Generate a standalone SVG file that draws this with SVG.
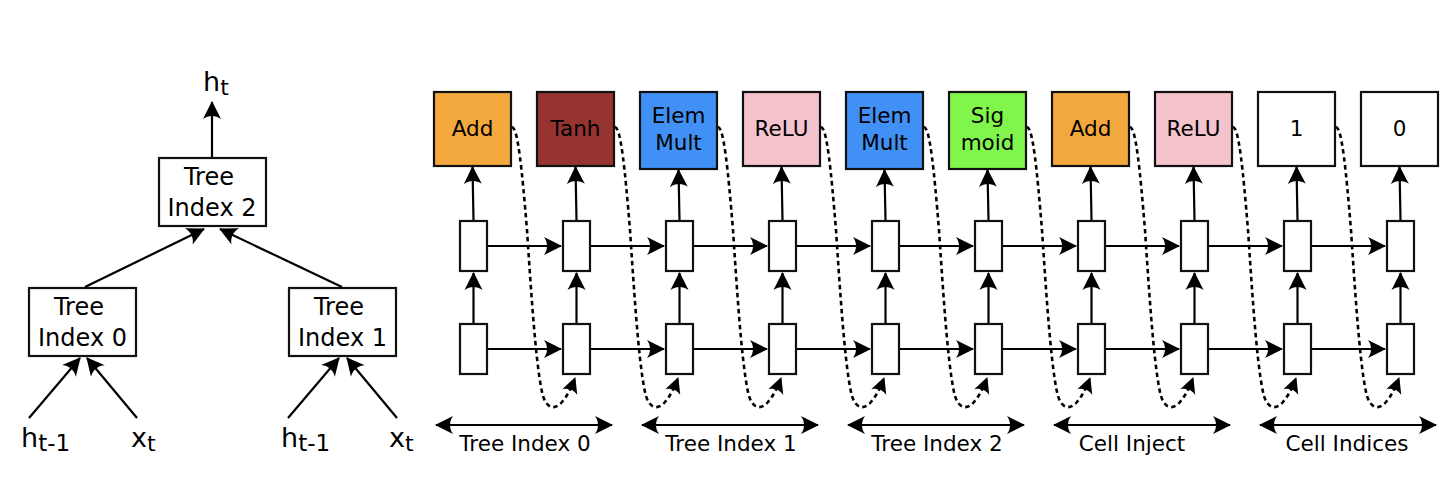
<svg xmlns="http://www.w3.org/2000/svg" width="1450" height="504" viewBox="0 0 1450 504">
<defs>
<style>
.box{stroke:#111;stroke-width:2.2}
.sm{fill:#fff;stroke:#111;stroke-width:2.2}
.t{font-family:"DejaVu Sans","Liberation Sans",sans-serif;font-size:21.5px;text-anchor:middle;fill:#000}
.tt{font-family:"DejaVu Sans","Liberation Sans",sans-serif;font-size:24px;text-anchor:middle;fill:#000}
.v{font-family:"DejaVu Sans","Liberation Sans",sans-serif;font-size:27px;fill:#000}
.ln{stroke:#000;stroke-width:2.2;fill:none;marker-end:url(#ah)}
.dl{stroke:#000;stroke-width:2.2;fill:none;marker-start:url(#ah);marker-end:url(#ah)}
.dot{stroke:#000;stroke-width:2.6;fill:none;stroke-dasharray:4.5 3.5;marker-end:url(#ahs)}
</style>
<marker id="ah" markerUnits="userSpaceOnUse" markerWidth="24" markerHeight="24" viewBox="-21 -12 24 24" refX="0" refY="0" orient="auto-start-reverse">
<path d="M1,0 L-17,-9 C-13,-3.5 -13,3.5 -17,9 Z" fill="#000"/>
</marker>
<marker id="ahs" markerUnits="userSpaceOnUse" markerWidth="22" markerHeight="22" viewBox="-19 -11 22 22" refX="0" refY="0" orient="auto">
<path d="M1,0 L-15,-8 C-11.5,-3 -11.5,3 -15,8 Z" fill="#000"/>
</marker>
</defs>
<rect width="1450" height="504" fill="#fff"/>

<g id="tree2"><rect class="box" x="159" y="158" width="107" height="68" fill="#fff"/><text class="tt" x="209" y="185">Tree</text><text class="tt" x="212" y="216">Index 2</text></g>
<g id="tree0"><rect class="box" x="29" y="288" width="107" height="68" fill="#fff"/><text class="tt" x="79" y="315">Tree</text><text class="tt" x="82.5" y="346">Index 0</text></g>
<g id="tree1"><rect class="box" x="289" y="288" width="107" height="68" fill="#fff"/><text class="tt" x="339" y="315">Tree</text><text class="tt" x="342.5" y="346">Index 1</text></g>
<g id="labels-left">
<text class="v" x="203" y="91">h<tspan font-size="22" dy="4">t</tspan></text>
<text class="v" x="21" y="447">h<tspan font-size="23" dy="4">t-1</tspan></text>
<text class="v" x="131" y="447">x<tspan font-size="22" dy="4">t</tspan></text>
<text class="v" x="281" y="447">h<tspan font-size="23" dy="4">t-1</tspan></text>
<text class="v" x="389" y="447">x<tspan font-size="22" dy="4">t</tspan></text>
</g>

<g id="c0"><rect class="box" x="434" y="92" width="77" height="74" fill="#f2a83d"/><text class="t" x="472.5" y="135.5">Add</text></g>
<g id="c1"><rect class="box" x="537" y="92" width="77" height="74" fill="#963430"/><text class="t" x="575.5" y="135.5">Tanh</text></g>
<g id="c2"><rect class="box" x="640" y="92" width="77" height="77" fill="#4090f5"/><text class="t" x="678.5" y="123">Elem</text><text class="t" x="678.5" y="150">Mult</text></g>
<g id="c3"><rect class="box" x="743" y="92" width="77" height="74" fill="#f5c3cc"/><text class="t" x="781.5" y="135.5">ReLU</text></g>
<g id="c4"><rect class="box" x="846" y="92" width="77" height="77" fill="#4090f5"/><text class="t" x="884.5" y="123">Elem</text><text class="t" x="884.5" y="150">Mult</text></g>
<g id="c5"><rect class="box" x="949" y="92" width="77" height="77" fill="#80f54b"/><text class="t" x="987.5" y="123">Sig</text><text class="t" x="987.5" y="150">moid</text></g>
<g id="c6"><rect class="box" x="1052" y="92" width="77" height="74" fill="#f2a83d"/><text class="t" x="1090.5" y="135.5">Add</text></g>
<g id="c7"><rect class="box" x="1155" y="92" width="77" height="74" fill="#f5c3cc"/><text class="t" x="1193.5" y="135.5">ReLU</text></g>
<g id="c8"><rect class="box" x="1258" y="92" width="77" height="74" fill="#fff"/><text class="t" x="1296.5" y="135.5">1</text></g>
<g id="c9"><rect class="box" x="1361" y="92" width="77" height="74" fill="#fff"/><text class="t" x="1399.5" y="135.5">0</text></g>

<g id="cells">
<rect class="sm" x="460" y="221" width="27" height="50"/><rect class="sm" x="460" y="324" width="27" height="50"/>
<rect class="sm" x="563" y="221" width="27" height="50"/><rect class="sm" x="563" y="324" width="27" height="50"/>
<rect class="sm" x="666" y="221" width="27" height="50"/><rect class="sm" x="666" y="324" width="27" height="50"/>
<rect class="sm" x="769" y="221" width="27" height="50"/><rect class="sm" x="769" y="324" width="27" height="50"/>
<rect class="sm" x="872" y="221" width="27" height="50"/><rect class="sm" x="872" y="324" width="27" height="50"/>
<rect class="sm" x="975" y="221" width="27" height="50"/><rect class="sm" x="975" y="324" width="27" height="50"/>
<rect class="sm" x="1078" y="221" width="27" height="50"/><rect class="sm" x="1078" y="324" width="27" height="50"/>
<rect class="sm" x="1181" y="221" width="27" height="50"/><rect class="sm" x="1181" y="324" width="27" height="50"/>
<rect class="sm" x="1284" y="221" width="27" height="50"/><rect class="sm" x="1284" y="324" width="27" height="50"/>
<rect class="sm" x="1387" y="221" width="27" height="50"/><rect class="sm" x="1387" y="324" width="27" height="50"/>
</g>

<g id="connectors">
<line class="ln" x1="212" y1="157" x2="212" y2="102"/>
<line class="ln" x1="85" y1="287" x2="204" y2="229"/>
<line class="ln" x1="342" y1="287" x2="220" y2="229"/>
<line class="ln" x1="29" y1="418" x2="80" y2="358"/>
<line class="ln" x1="137" y1="418" x2="87" y2="358"/>
<line class="ln" x1="288" y1="418" x2="339" y2="358"/>
<line class="ln" x1="397" y1="418" x2="347" y2="358"/>
<line class="ln" x1="488" y1="246" x2="561" y2="246"/>
<line class="ln" x1="591" y1="246" x2="664" y2="246"/>
<line class="ln" x1="694" y1="246" x2="767" y2="246"/>
<line class="ln" x1="797" y1="246" x2="870" y2="246"/>
<line class="ln" x1="900" y1="246" x2="973" y2="246"/>
<line class="ln" x1="1003" y1="246" x2="1076" y2="246"/>
<line class="ln" x1="1106" y1="246" x2="1179" y2="246"/>
<line class="ln" x1="1209" y1="246" x2="1282" y2="246"/>
<line class="ln" x1="1312" y1="246" x2="1385" y2="246"/>
<line class="ln" x1="488" y1="349" x2="561" y2="349"/>
<line class="ln" x1="591" y1="349" x2="664" y2="349"/>
<line class="ln" x1="694" y1="349" x2="767" y2="349"/>
<line class="ln" x1="797" y1="349" x2="870" y2="349"/>
<line class="ln" x1="900" y1="349" x2="973" y2="349"/>
<line class="ln" x1="1003" y1="349" x2="1076" y2="349"/>
<line class="ln" x1="1106" y1="349" x2="1179" y2="349"/>
<line class="ln" x1="1209" y1="349" x2="1282" y2="349"/>
<line class="ln" x1="1312" y1="349" x2="1385" y2="349"/>
<line class="ln" x1="473.5" y1="323" x2="473.5" y2="273"/>
<line class="ln" x1="576.5" y1="323" x2="576.5" y2="273"/>
<line class="ln" x1="679.5" y1="323" x2="679.5" y2="273"/>
<line class="ln" x1="782.5" y1="323" x2="782.5" y2="273"/>
<line class="ln" x1="885.5" y1="323" x2="885.5" y2="273"/>
<line class="ln" x1="988.5" y1="323" x2="988.5" y2="273"/>
<line class="ln" x1="1091.5" y1="323" x2="1091.5" y2="273"/>
<line class="ln" x1="1194.5" y1="323" x2="1194.5" y2="273"/>
<line class="ln" x1="1297.5" y1="323" x2="1297.5" y2="273"/>
<line class="ln" x1="1400.5" y1="323" x2="1400.5" y2="273"/>
<line class="ln" x1="473.5" y1="220" x2="472.5" y2="167"/>
<line class="ln" x1="576.5" y1="220" x2="575.5" y2="167"/>
<line class="ln" x1="679.5" y1="220" x2="678.5" y2="170"/>
<line class="ln" x1="782.5" y1="220" x2="781.5" y2="167"/>
<line class="ln" x1="885.5" y1="220" x2="884.5" y2="170"/>
<line class="ln" x1="988.5" y1="220" x2="987.5" y2="170"/>
<line class="ln" x1="1091.5" y1="220" x2="1090.5" y2="167"/>
<line class="ln" x1="1194.5" y1="220" x2="1193.5" y2="167"/>
<line class="ln" x1="1297.5" y1="220" x2="1296.5" y2="167"/>
<line class="ln" x1="1400.5" y1="220" x2="1399.5" y2="167"/>
<path class="dot" d="M512,127 C518,128 522,170 527,230 C531,290 536,370 543,396 C547,409 555,410 562,402 C568,395 572,386 575,378"/>
<path class="dot" transform="translate(103,0)" d="M512,127 C518,128 522,170 527,230 C531,290 536,370 543,396 C547,409 555,410 562,402 C568,395 572,386 575,378"/>
<path class="dot" transform="translate(206,0)" d="M512,127 C518,128 522,170 527,230 C531,290 536,370 543,396 C547,409 555,410 562,402 C568,395 572,386 575,378"/>
<path class="dot" transform="translate(309,0)" d="M512,127 C518,128 522,170 527,230 C531,290 536,370 543,396 C547,409 555,410 562,402 C568,395 572,386 575,378"/>
<path class="dot" transform="translate(412,0)" d="M512,127 C518,128 522,170 527,230 C531,290 536,370 543,396 C547,409 555,410 562,402 C568,395 572,386 575,378"/>
<path class="dot" transform="translate(515,0)" d="M512,127 C518,128 522,170 527,230 C531,290 536,370 543,396 C547,409 555,410 562,402 C568,395 572,386 575,378"/>
<path class="dot" transform="translate(618,0)" d="M512,127 C518,128 522,170 527,230 C531,290 536,370 543,396 C547,409 555,410 562,402 C568,395 572,386 575,378"/>
<path class="dot" transform="translate(721,0)" d="M512,127 C518,128 522,170 527,230 C531,290 536,370 543,396 C547,409 555,410 562,402 C568,395 572,386 575,378"/>
<path class="dot" transform="translate(824,0)" d="M512,127 C518,128 522,170 527,230 C531,290 536,370 543,396 C547,409 555,410 562,402 C568,395 572,386 575,378"/>
<line class="dl" x1="436" y1="425" x2="612" y2="425"/>
<line class="dl" x1="642" y1="425" x2="818" y2="425"/>
<line class="dl" x1="848" y1="425" x2="1024" y2="425"/>
<line class="dl" x1="1054" y1="425" x2="1230" y2="425"/>
<line class="dl" x1="1260" y1="425" x2="1436" y2="425"/>
</g>
<g id="span-labels">
<text class="t" x="525" y="451">Tree Index 0</text>
<text class="t" x="731" y="451">Tree Index 1</text>
<text class="t" x="937" y="451">Tree Index 2</text>
<text class="t" x="1132" y="451">Cell Inject</text>
<text class="t" x="1347" y="451">Cell Indices</text>
</g>
</svg>
